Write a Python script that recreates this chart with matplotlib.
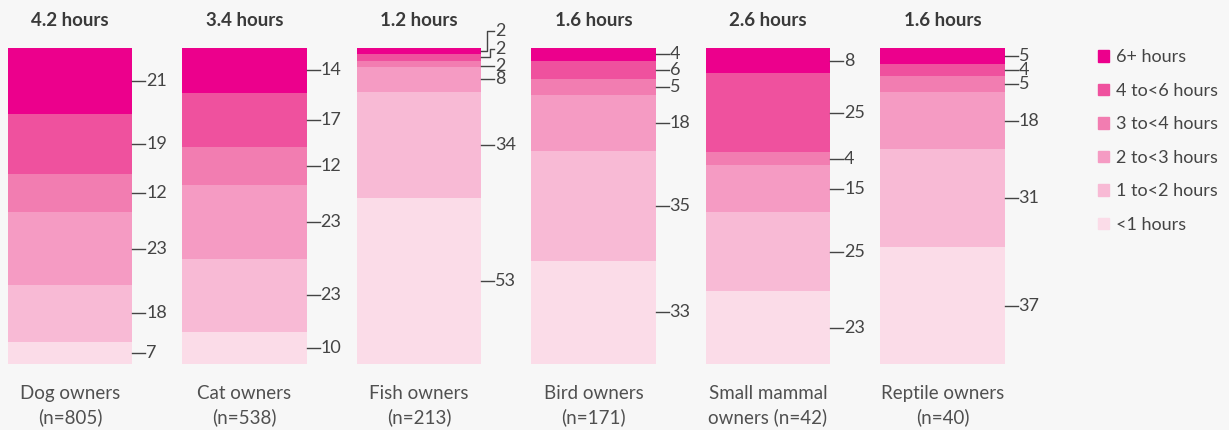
import numpy as np
import matplotlib
matplotlib.use("Agg")
import matplotlib.pyplot as plt
from matplotlib.patches import Patch

plt.rcParams["font.family"] = ["Lato", "DejaVu Sans"]

# data, bottom band first (<1 hours) up to 6+ hours
groups = ["Dog owners\n(n=805)", "Cat owners\n(n=538)", "Fish owners\n(n=213)",
          "Bird owners\n(n=171)", "Small mammal\nowners (n=42)", "Reptile owners\n(n=40)"]
averages = ["4.2 hours", "3.4 hours", "1.2 hours", "1.6 hours", "2.6 hours", "1.6 hours"]
bands = ["<1 hours", "1 to<2 hours", "2 to<3 hours", "3 to<4 hours", "4 to<6 hours", "6+ hours"]
lt1 = [7, 10, 53, 33, 23, 37]
h1_2 = [18, 23, 34, 35, 25, 31]
h2_3 = [23, 23, 8, 18, 15, 18]
h3_4 = [12, 12, 2, 5, 4, 5]
h4_6 = [19, 17, 2, 6, 25, 4]
h6p = [21, 14, 2, 4, 8, 5]

colors = ["#fbdce8", "#f8bad5", "#f59bc3", "#f27db1", "#ef519e", "#ec008c"]
bg = "#f7f7f7"
txt = "#444444"

values = np.array([lt1, h1_2, h2_3, h3_4, h4_6, h6p], dtype=float)
shares = values / values.sum(axis=0) * 100

fig = plt.figure(figsize=(12.29, 4.30), dpi=100, facecolor=bg)
ax = fig.add_axes([0, 1 - 364 / 430, 1060 / 1229, 316 / 430], facecolor=bg)

x = np.arange(len(groups))
w = 0.711
bottom = np.zeros(len(groups))
for k in range(len(bands)):
    ax.bar(x, shares[k], w, bottom=bottom, color=colors[k], label=bands[k], linewidth=0)
    bottom += shares[k]

ax.set_xlim(-70 / 174.5, (1060 - 70) / 174.5)
ax.set_ylim(0, 100)

# value labels with short leader lines
px = 1 / 174.5          # one pixel in x data units
py = 100 / 316          # one pixel in y data units
# fish owners' thin top bands get shifted labels
lift = {(2, 5): (6, 20), (2, 4): (9, 8), (2, 3): (0, -2)}
for i in range(len(groups)):
    edge = x[i] + w / 2
    cum = 0
    for k in range(len(bands)):
        mid = cum + shares[k, i] / 2
        cum += shares[k, i]
        dx, dy = lift.get((i, k), (0, 0))
        ylab = mid + dy * py
        if dx:
            ax.plot([edge, edge + dx * px, edge + dx * px, edge + 13 * px],
                    [mid, mid, ylab, ylab], color=txt, lw=1, clip_on=False)
        else:
            ax.plot([edge, edge + 13 * px], [ylab, ylab], color=txt, lw=1, clip_on=False)
        ax.text(edge + 14 * px, ylab, f"{values[k, i]:.0f}", ha="left", va="center",
                fontsize=13, color=txt)
    ax.annotate(averages[i], xy=(x[i], 100), xytext=(0, 20), textcoords="offset points",
                ha="center", va="center", fontsize=13.5, fontweight="bold", color="#3a3a3a")

ax.set_xticks(x, groups)
ax.tick_params(axis="x", length=0, pad=15, labelsize=13.5, labelcolor="#505050")
for lab in ax.get_xticklabels():
    lab.set_linespacing(1.4)
ax.set_yticks([])
for s in ax.spines.values():
    s.set_visible(False)

handles = [Patch(color=colors[k]) for k in range(len(bands))][::-1]
fig.legend(handles, bands[::-1], loc="upper left", bbox_to_anchor=(1082 / 1229, 1 - 33 / 430),
           frameon=False, fontsize=13, handlelength=0.6, handleheight=0.6,
           handletextpad=0.4, labelspacing=0.97, labelcolor=txt)

fig.savefig("out.png", dpi=100, facecolor=bg)
